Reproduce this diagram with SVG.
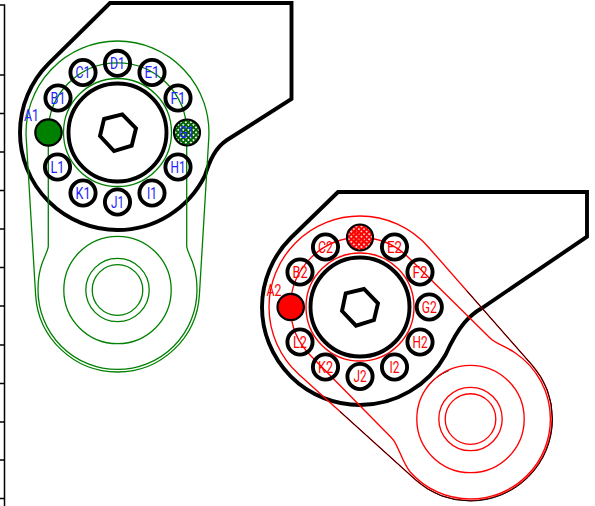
<svg xmlns="http://www.w3.org/2000/svg" width="595" height="506" viewBox="0 0 595 506">
<style>
.k{fill:none;stroke:#000;stroke-width:3.9;stroke-linejoin:miter}
.h{fill:none;stroke:#000;stroke-width:3.9}
.g{fill:none;stroke:#008000;stroke-width:1.3}
.r{fill:none;stroke:#f00;stroke-width:1.35}
.t{fill:none;stroke:#000;stroke-width:1}
.tick{fill:none;stroke:#000;stroke-width:1.5}
.s{stroke:#000;stroke-width:2.2}
text{font-family:"Roboto","Liberation Sans",sans-serif;font-weight:400;font-size:16px;text-anchor:middle}
.b{fill:#22f}
.d{fill:#f00}
</style>
<defs>
<pattern id="hg" width="3.6" height="3.6" patternUnits="userSpaceOnUse" patternTransform="rotate(45)"><rect width="3.6" height="3.6" fill="#006000"/><rect x="1" y="1" width="1.7" height="1.7" fill="#fff"/></pattern>
<pattern id="hr" width="3.6" height="3.6" patternUnits="userSpaceOnUse" patternTransform="rotate(45)"><rect width="3.6" height="3.6" fill="#f00"/><rect x="1" y="1" width="1.6" height="1.6" fill="#fff"/></pattern>
</defs>
<g id="axis">
<path class="tick" d="M0 5H4.5V506M0 75H4.5M0 113.5H4.5M0 152H4.5M0 190.5H4.5M0 229H4.5M0 267.5H4.5M0 306H4.5M0 345H4.5M0 383.5H4.5M0 422H4.5M0 460H4.5M0 498.5H4.5"/>
</g>
<g id="connectors">
<g id="arm1">
<path class="k" d="M110 3H291.5V99L227 140C215 148 210 160 204.9 175.7A97.5 97.5 0 0 1 117.5 230A97.5 97.5 0 0 1 20 132.5A97.5 97.5 0 0 1 48.6 63.6Z"/>
<path class="g" d="M35.6 294.7L26.2 137.7A91.5 91.5 0 0 1 117.5 41A91.5 91.5 0 0 1 208.8 137.7L199.4 294.7A82 82 0 0 1 117.5 372A82 82 0 0 1 35.6 294.7Z"/>
<path class="g" d="M48.3 132V246C48 254 38 262 38 290A79.5 79.5 0 0 0 197 290C197 262 187 254 186.7 246V132A69.2 69.2 0 0 0 48.3 132Z"/>
<circle class="g" cx="117.5" cy="132.5" r="54"/>
<circle class="g" cx="117.5" cy="290" r="53.7"/>
<circle class="g" cx="117.5" cy="290" r="31.7" stroke-width="1.5"/>
<circle class="g" cx="117.5" cy="290" r="25.3" stroke-width="1.5"/>
<circle class="k" cx="117.5" cy="132.5" r="49"/>
<path class="k" d="M104 119L122.3 114.3L136 128.3L131.7 145.7L114 151L100 136Z"/>
</g>
<g id="arm2">
<path class="k" d="M338 192H587V236.7L482 308C470 315 459 325 445.7 354.5A98 98 0 0 1 360 405A98 98 0 0 1 262 307A98 98 0 0 1 290.7 238Z"/>
<path class="r" d="M299 374.5A91 91 0 0 1 269 307A91 91 0 0 1 360 216A91 91 0 0 1 428.3 247L532 365A82 82 0 0 1 552 419A82 82 0 0 1 470.5 500.5A82 82 0 0 1 415.5 479.8Z"/>
<path class="t" d="M466.7 290.7L532 365A82 82 0 0 1 552.5 419A82 82 0 0 1 470.5 501A82 82 0 0 1 415.5 479.8L340 411.5"/>
<path class="t" d="M449 370.5A53.7 53.7 0 0 0 427 387"/>
<path class="r" d="M409 258L490 338C496 344 503 345 515 352.7A79.9 79.9 0 0 1 550.4 419A79.9 79.9 0 0 1 470.5 498.9A79.9 79.9 0 0 1 410 471.7C402 462 398 444 391.7 438L311 356A69.5 69.5 0 0 1 290.5 307A69.5 69.5 0 0 1 360 237.5A69.5 69.5 0 0 1 409 258Z"/>
<circle class="r" cx="360" cy="307" r="54"/>
<circle class="r" cx="470.5" cy="419" r="53.7"/>
<circle class="r" cx="470.5" cy="419" r="31.7"/>
<circle class="r" cx="470.5" cy="419" r="25.3"/>
<circle class="k" cx="360" cy="307" r="49.5"/>
<path class="k" d="M345.7 293.3L364 289L378 303.3L374 320L356 325.7L342 311Z"/>
</g>
</g>
<g id="A1"><circle class="s" cx="48.5" cy="132.5" r="13.2" fill="#008000"/><text class="b" x="31.5" y="121" textLength="15" lengthAdjust="spacingAndGlyphs">A1</text></g>
<g id="B1"><circle class="h" cx="58" cy="98" r="12.6"/><text class="b" x="58" y="103.5" textLength="15" lengthAdjust="spacingAndGlyphs">B1</text></g>
<g id="C1"><circle class="h" cx="83" cy="72.5" r="12.6"/><text class="b" x="83" y="78" textLength="15" lengthAdjust="spacingAndGlyphs">C1</text></g>
<g id="D1"><circle class="h" cx="117.5" cy="63.3" r="12.6"/><text class="b" x="117.5" y="69" textLength="15" lengthAdjust="spacingAndGlyphs">D1</text></g>
<g id="E1"><circle class="h" cx="152" cy="72.5" r="12.6"/><text class="b" x="152" y="78" textLength="15" lengthAdjust="spacingAndGlyphs">E1</text></g>
<g id="F1"><circle class="h" cx="178" cy="98" r="12.6"/><text class="b" x="178" y="103.5" textLength="15" lengthAdjust="spacingAndGlyphs">F1</text></g>
<g id="G1"><circle class="s" cx="187" cy="132.5" r="13" fill="url(#hg)"/><text class="b" x="187" y="138" textLength="15" lengthAdjust="spacingAndGlyphs">G1</text></g>
<g id="H1"><circle class="h" cx="178" cy="167" r="12.6"/><text class="b" x="178" y="172.5" textLength="15" lengthAdjust="spacingAndGlyphs">H1</text></g>
<g id="I1"><circle class="h" cx="152" cy="193" r="12.6"/><text class="b" x="152" y="198.5" textLength="10" lengthAdjust="spacingAndGlyphs">I1</text></g>
<g id="J1"><circle class="h" cx="117.5" cy="202" r="12.6"/><text class="b" x="117.5" y="207.5" textLength="13" lengthAdjust="spacingAndGlyphs">J1</text></g>
<g id="K1"><circle class="h" cx="83" cy="193" r="12.6"/><text class="b" x="83" y="198.5" textLength="15" lengthAdjust="spacingAndGlyphs">K1</text></g>
<g id="L1"><circle class="h" cx="57.5" cy="167" r="12.6"/><text class="b" x="57.5" y="172.5" textLength="14" lengthAdjust="spacingAndGlyphs">L1</text></g>
<g id="A2"><circle class="s" cx="290.7" cy="307" r="13.2" fill="#f00"/><text class="d" x="274" y="296" textLength="15" lengthAdjust="spacingAndGlyphs">A2</text></g>
<g id="B2"><circle class="h" cx="300" cy="272" r="12.6"/><text class="d" x="300" y="277.5" textLength="15" lengthAdjust="spacingAndGlyphs">B2</text></g>
<g id="C2"><circle class="h" cx="325.5" cy="247" r="12.6"/><text class="d" x="325.5" y="252.5" textLength="15" lengthAdjust="spacingAndGlyphs">C2</text></g>
<g id="D2"><circle class="s" cx="360" cy="237.5" r="13" fill="url(#hr)"/><text class="d" x="360" y="243" textLength="15" lengthAdjust="spacingAndGlyphs">D2</text></g>
<g id="E2"><circle class="h" cx="394.5" cy="247" r="12.6"/><text class="d" x="394.5" y="252.5" textLength="15" lengthAdjust="spacingAndGlyphs">E2</text></g>
<g id="F2"><circle class="h" cx="420" cy="272" r="12.6"/><text class="d" x="420" y="277.5" textLength="15" lengthAdjust="spacingAndGlyphs">F2</text></g>
<g id="G2"><circle class="h" cx="429.3" cy="307" r="12.6"/><text class="d" x="429.3" y="312.5" textLength="15" lengthAdjust="spacingAndGlyphs">G2</text></g>
<g id="H2"><circle class="h" cx="420" cy="342" r="12.6"/><text class="d" x="420" y="347.5" textLength="15" lengthAdjust="spacingAndGlyphs">H2</text></g>
<g id="I2"><circle class="h" cx="394.5" cy="367" r="12.6"/><text class="d" x="394.5" y="372.5" textLength="10" lengthAdjust="spacingAndGlyphs">I2</text></g>
<g id="J2"><circle class="h" cx="360" cy="376.5" r="12.6"/><text class="d" x="360" y="382" textLength="13" lengthAdjust="spacingAndGlyphs">J2</text></g>
<g id="K2"><circle class="h" cx="325.5" cy="367" r="12.6"/><text class="d" x="325.5" y="372.5" textLength="15" lengthAdjust="spacingAndGlyphs">K2</text></g>
<g id="L2"><circle class="h" cx="300" cy="342" r="12.6"/><text class="d" x="300" y="347.5" textLength="14" lengthAdjust="spacingAndGlyphs">L2</text></g>
</svg>
